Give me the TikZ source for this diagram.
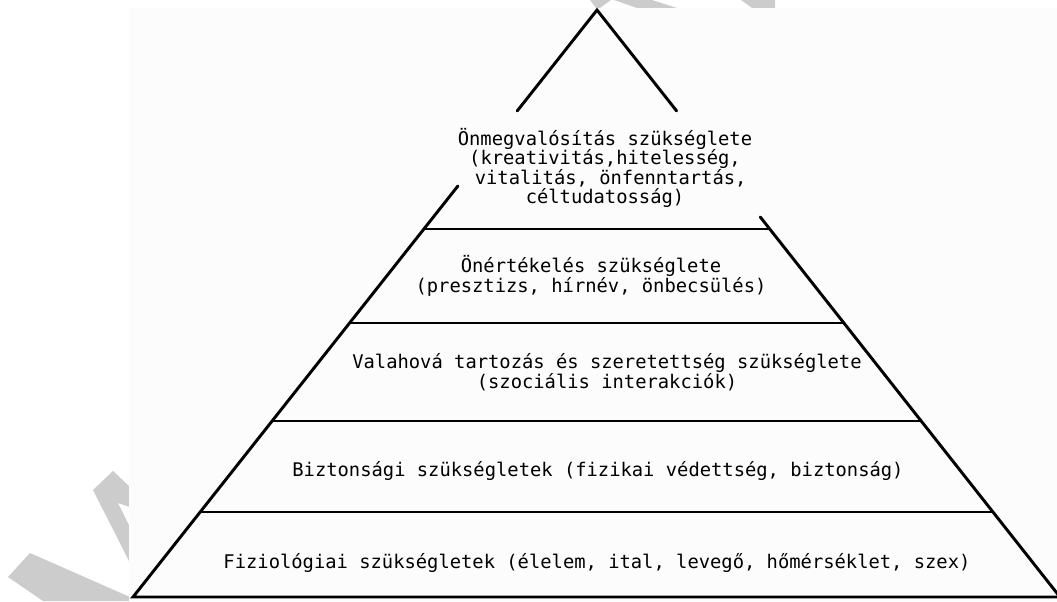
\documentclass[tikz,border=0pt]{standalone}
\usepackage{fontspec}
\newfontfamily\pyrfont{DejaVu Sans Mono}
\usetikzlibrary{calc}
\definecolor{paper}{HTML}{FCFCFC}
\definecolor{wmgray}{HTML}{CCCCCC}
\tikzset{
    edgeline/.style={line width=2.2pt, line cap=round}, % the two slanted sides and the base
    tierline/.style={line width=2.2pt}, % lines between the levels
    leveltext/.style={align=center, inner sep=0pt, font=\pyrfont\fontsize{14.1}{14.6}\selectfont}, % text of each level
    watermark/.style={fill=wmgray, draw=none}, % grey remains at the edges
    }
\begin{document}
\begin{tikzpicture}[x=0.75pt, y=-0.75pt]
\useasboundingbox (0,0) rectangle (1057,601);

% grey watermark pieces outside the page
\fill[watermark] (590,0) -- (611,0) -- (600,8) -- (596,8) -- cycle;
\fill[watermark] (614,0) -- (652,0) -- (677,8) -- (637,8) -- cycle;
\fill[watermark] (741,0) -- (775,0) -- (775,8) -- (752,8) -- cycle;
\fill[watermark] (93,490) -- (113,471) -- (130,487) -- (130,507) -- (118,503) -- (130,527) -- (130,563) -- cycle;
\fill[watermark] (8,577) -- (30,553) -- (130,597) -- (130,601) -- (43,601) -- cycle;
\fill[paper] (129,8) rectangle (1057,601);

\coordinate (apex) at (597,10);
\coordinate (bl) at (133,597);
\coordinate (br) at (1060,597);

% outline, open behind the top text
\draw[edgeline] ($(apex)!0.172!(bl)$) -- (apex) -- ($(apex)!0.172!(br)$);
\draw[edgeline] ($(apex)!0.2998!(bl)$) -- (bl) -- (br) -- ($(apex)!0.3526!(br)$);

\foreach \t in {0.3731,0.5332,0.7002,0.8552}
    \draw[tierline] ($(apex)!\t!(bl)$) -- ($(apex)!\t!(br)$);

\node[leveltext] (selfreal) at (605,168) {Önmegvalósítás szükséglete\\(kreativitás,hitelesség,\\~vitalitás, önfenntartás,\\céltudatosság)};
\node[leveltext] (esteem) at (591,276) {Önértékelés szükséglete\\(presztizs, hírnév, önbecsülés)};
\node[leveltext] (belong) at (607,372) {Valahová tartozás és szeretettség szükséglete\\(szociális interakciók)};
\node[leveltext] (safety) at (598,471) {Biztonsági szükségletek (fizikai védettség, biztonság)};
\node[leveltext] (physio) at (597,563) {Fiziológiai szükségletek (élelem, ital, levegő, hőmérséklet, szex)};

\end{tikzpicture}
\end{document}
